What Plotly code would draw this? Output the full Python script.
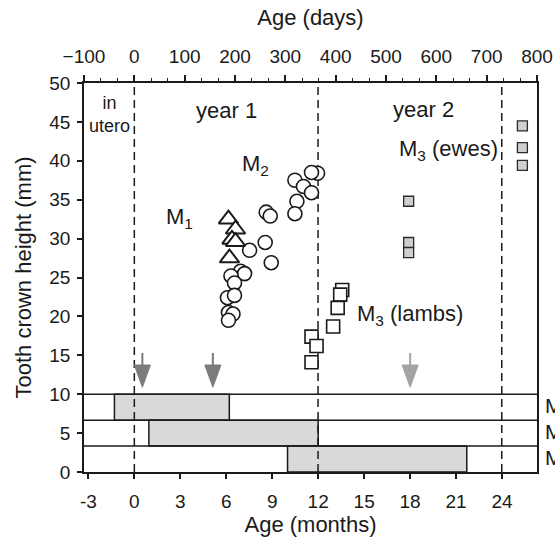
import plotly.graph_objects as go

DAYS_PER_MONTH = 365.25 / 12

# ---------------- data ----------------
m1_tri_days = [187, 201, 194, 201, 189]
m1_tri_mm = [32.5, 31.2, 29.9, 29.6, 27.5]

m2_circ_days = [364, 352, 319, 336, 352, 323, 319, 262, 270, 260, 229, 272,
                211, 219, 192, 199, 185, 199, 187, 196, 187]
m2_circ_mm = [38.4, 38.5, 37.5, 36.7, 35.9, 34.8, 33.2, 33.4, 32.9, 29.5, 28.5, 26.9,
              25.8, 25.5, 25.2, 24.3, 22.4, 22.7, 20.5, 20.3, 19.5]

m3_lamb_days = [413, 409, 404, 395, 352, 362, 352]
m3_lamb_mm = [23.4, 22.8, 21.1, 18.7, 17.4, 16.2, 14.1]

m3_ewe_days = [771, 771, 771, 545, 545, 545]
m3_ewe_mm = [44.5, 41.7, 39.4, 34.8, 29.5, 28.2]

year_bounds_days = [0, 365, 730]

arrow_days = [16, 156, 548]
arrow_top_mm = 15.3
arrow_tip_mm = 10.9
arrow_colors = ["#7b7b7b", "#7b7b7b", "#a3a3a3"]

bar_names = ["M<sub>1</sub>", "M<sub>2</sub>", "M<sub>3</sub>"]
bar_start_months = [-1.3, 0.95, 10.0]
bar_end_months = [6.2, 12.0, 21.7]

month_ticks = [-3, 0, 3, 6, 9, 12, 15, 18, 21, 24]
day_range = [-100, 800]
mm_range = [0, 50]
panel_top_mm = 10

FONT = "Liberation Sans, Arial, sans-serif"
INK = "#1a1a1a"

fig = go.Figure()

# ---------------- bottom panel (eruption bars) ----------------
row_h = panel_top_mm / len(bar_names)
row_centers = [panel_top_mm - row_h * (i + 0.5) for i in range(len(bar_names))]
starts_d = [s * DAYS_PER_MONTH for s in bar_start_months]
lens_d = [(e - s) * DAYS_PER_MONTH for s, e in zip(bar_start_months, bar_end_months)]
fig.add_trace(go.Bar(orientation="h", y=row_centers, x=lens_d, base=starts_d,
                     width=row_h, marker=dict(color="#d9d9d9", line=dict(color=INK, width=1.5)),
                     showlegend=False, hoverinfo="skip"))

for i in range(len(bar_names)):
    yv = panel_top_mm - row_h * i
    fig.add_shape(type="line", xref="paper", x0=0, x1=1, yref="y", y0=yv, y1=yv,
                  line=dict(color=INK, width=1.5))
    fig.add_annotation(xref="paper", x=1, xshift=6, xanchor="left", yref="y", y=row_centers[i],
                       text=bar_names[i], showarrow=False, font=dict(family=FONT, size=21, color=INK))

# ---------------- dashed year lines ----------------
dx, dy = [], []
for d in year_bounds_days:
    dx += [d, d, None]
    dy += [mm_range[0], mm_range[1], None]
fig.add_trace(go.Scatter(x=dx, y=dy, mode="lines", line=dict(color=INK, width=1.5, dash="8px,5px"),
                         showlegend=False, hoverinfo="skip"))

# ---------------- arrows ----------------
head_h = 2.85      # mm units
head_half = 16     # days
for d, c in zip(arrow_days, arrow_colors):
    fig.add_trace(go.Scatter(x=[d, d], y=[arrow_top_mm, arrow_tip_mm + head_h - 0.2], mode="lines",
                             line=dict(color=c, width=2), showlegend=False, hoverinfo="skip"))
    fig.add_trace(go.Scatter(x=[d - head_half, d + head_half, d, d - head_half],
                             y=[arrow_tip_mm + head_h, arrow_tip_mm + head_h, arrow_tip_mm, arrow_tip_mm + head_h],
                             mode="lines", fill="toself", fillcolor=c, line=dict(color=c, width=1),
                             showlegend=False, hoverinfo="skip"))

# ---------------- data points ----------------
fig.add_trace(go.Scatter(x=m2_circ_days, y=m2_circ_mm, mode="markers",
                         marker=dict(symbol="circle", size=14, color="white",
                                     line=dict(color=INK, width=1.6)), showlegend=False))
fig.add_trace(go.Scatter(x=m1_tri_days, y=m1_tri_mm, mode="markers",
                         marker=dict(symbol="triangle-up", size=17, color="white",
                                     line=dict(color=INK, width=2)), showlegend=False))
fig.add_trace(go.Scatter(x=m3_lamb_days, y=m3_lamb_mm, mode="markers",
                         marker=dict(symbol="square", size=13, color="white",
                                     line=dict(color=INK, width=1.6)), showlegend=False))
fig.add_trace(go.Scatter(x=m3_ewe_days, y=m3_ewe_mm, mode="markers",
                         marker=dict(symbol="square", size=10, color="#cfcfcf",
                                     line=dict(color="#2a2a2a", width=1.3)), showlegend=False))

# top axis carrier
fig.add_trace(go.Scatter(x=day_range, y=[None, None], xaxis="x2", mode="markers",
                         showlegend=False, hoverinfo="skip"))

# ---------------- text labels ----------------
def label(x, y, text, size=22, **kw):
    fig.add_annotation(x=x, y=y, text=text, showarrow=False,
                       font=dict(family=FONT, size=size, color=INK), **kw)

label(-49, 45.9, "in<br>utero", size=18)
label(183, 46.5, "year 1")
label(574, 46.6, "year 2")
label(241, 39.5, "M<sub>2</sub>")
label(89, 32.6, "M<sub>1</sub>")
label(727, 41.4, "M<sub>3</sub> (ewes)", xanchor="right")
label(438, 20.2, "M<sub>3</sub> (lambs)", xanchor="left")

axis_common = dict(showgrid=False, zeroline=False, showline=True, linecolor=INK, linewidth=1.5,
                   tickcolor=INK, tickwidth=1.5, automargin=False,
                   tickfont=dict(family=FONT, size=19, color=INK))

fig.update_layout(
    width=555, height=537,
    margin=dict(l=84, r=18, t=83, b=65, autoexpand=False),
    paper_bgcolor="white", plot_bgcolor="white",
    xaxis=dict(range=day_range, tickmode="array",
               tickvals=[m * DAYS_PER_MONTH for m in month_ticks],
               ticktext=[str(m) for m in month_ticks],
               ticks="outside", ticklen=5, mirror=False, ticklabelstandoff=6,
               title=dict(text="Age (months)", font=dict(family=FONT, size=22, color=INK), standoff=8),
               **axis_common),
    xaxis2=dict(range=day_range, overlaying="x", side="top", tick0=0, dtick=100,
                ticks="outside", ticklen=6, ticklabelstandoff=5,
                minor=dict(dtick=100 / 3, tick0=0, ticklen=3, ticks="outside", tickcolor=INK, tickwidth=1.2),
                title=dict(text="Age (days)", font=dict(family=FONT, size=22, color=INK), standoff=14),
                **axis_common),
    yaxis=dict(range=mm_range, dtick=5, ticks="outside", ticklen=5, mirror=True, ticklabelstandoff=3,
               title=dict(text="Tooth crown height (mm)", font=dict(family=FONT, size=22, color=INK), standoff=12),
               **axis_common),
    showlegend=False,
)

fig.write_html("out.html")
